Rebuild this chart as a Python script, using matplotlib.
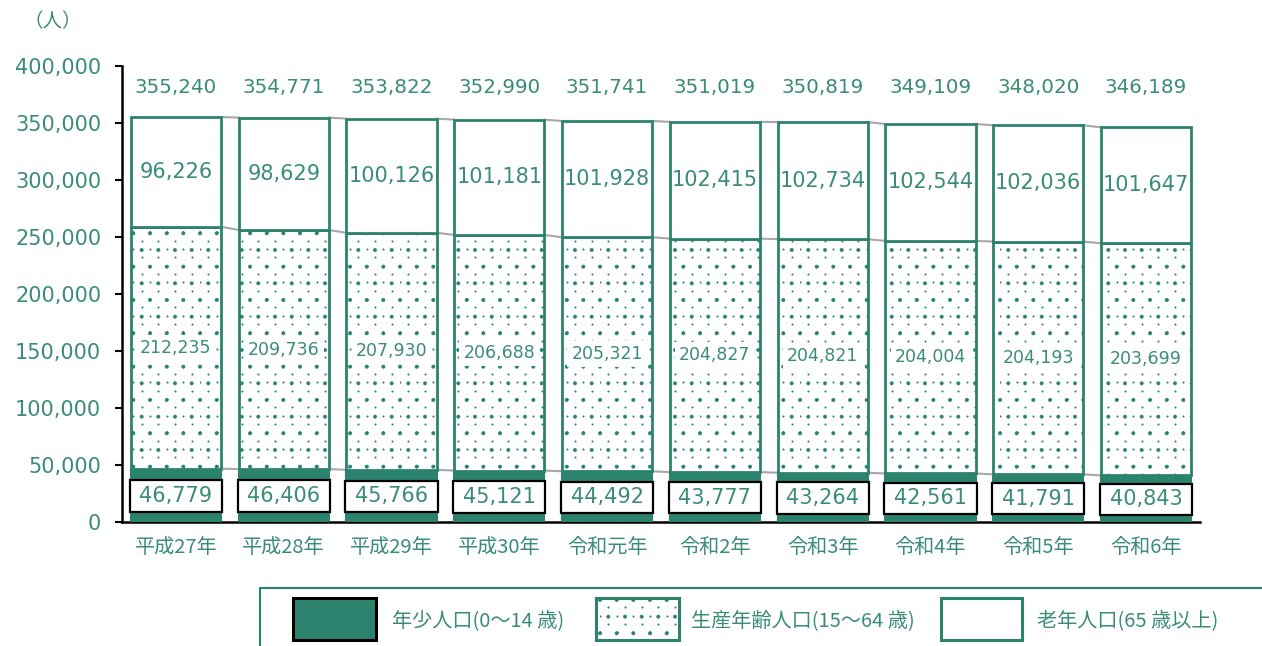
import matplotlib
matplotlib.use("Agg")
import matplotlib.pyplot as plt
from matplotlib.patches import Rectangle
from matplotlib.path import Path
from matplotlib import hatch as mhatch
import numpy as np

plt.rcParams['font.family'] = ['Noto Sans CJK JP', 'DejaVu Sans']
plt.rcParams['hatch.linewidth'] = 0.4

years = ['平成27年', '平成28年', '平成29年', '平成30年', '令和元年',
         '令和2年', '令和3年', '令和4年', '令和5年', '令和6年']
young = [46779, 46406, 45766, 45121, 44492, 43777, 43264, 42561, 41791, 40843]
working = [212235, 209736, 207930, 206688, 205321, 204827, 204821, 204004, 204193, 203699]
old = [96226, 98629, 100126, 101181, 101928, 102415, 102734, 102544, 102036, 101647]
total = [355240, 354771, 353822, 352990, 351741, 351019, 350819, 349109, 348020, 346189]
legend_labels = ['年少人口(0～14 歳)', '生産年齢人口(15～64 歳)', '老年人口(65 歳以上)']
yticks = [0, 50000, 100000, 150000, 200000, 250000, 300000, 350000, 400000]

TEAL = '#2b836e'
TXT = '#3a8c78'
NUMFONT = 'DejaVu Sans'


# sparse staggered dot texture for the '.' hatch (tile = 100 px at dpi 100)
class SparseDots(mhatch.HatchPatternBase):
    def __init__(self, hatch, density):
        self.pts = []
        if hatch.count('.') > 0:
            ys = [0, 8, 17, 25, 33, 42, 50, 58, 67, 75, 83, 92]
            xs_even = [0, 17, 33, 50, 67, 83]
            xs_odd = [8, 25, 42, 58, 75, 92]
            for r, yy in enumerate(ys):
                xs = xs_even if r % 2 == 0 else xs_odd
                for xx in xs:
                    self.pts.append(((xx + 0.5) / 100, (yy + 0.5) / 100))
        self.circ = Path.unit_circle()
        self.num_vertices = len(self.pts) * len(self.circ.vertices)

    def set_vertices_and_codes(self, vertices, codes):
        cv = self.circ.vertices * 0.007
        n = len(cv)
        for k, (xx, yy) in enumerate(self.pts):
            vertices[k * n:(k + 1) * n] = cv + (xx, yy)
            codes[k * n:(k + 1) * n] = self.circ.codes


mhatch._hatch_types = [SparseDots if t is mhatch.SmallCircles else t
                       for t in mhatch._hatch_types]

fig = plt.figure(figsize=(12.62, 6.46), dpi=100)
ax = fig.add_axes([122/1262, 1-522/646, (1200-122)/1262, (522-66)/646])

x = np.arange(len(years))
w = 0.835
young_a = np.array(young)
work_a = np.array(working)
old_a = np.array(old)

ax.bar(x, young_a, w, color=TEAL, edgecolor=TEAL, linewidth=1.5, zorder=3)
ax.bar(x, work_a, w, bottom=young_a, color='white', edgecolor=TEAL,
       linewidth=2, hatch='.', zorder=3)
ax.bar(x, old_a, w, bottom=young_a + work_a, color='white', edgecolor=TEAL,
       linewidth=2, zorder=3)

# series connector lines
for tops in (young_a, young_a + work_a, young_a + work_a + old_a):
    for i in range(len(x) - 1):
        ax.plot([x[i] + w/2, x[i+1] - w/2], [tops[i], tops[i+1]],
                color='#a8a8a8', lw=1.5, zorder=2)

# labels
box_h = 27500
for i in range(len(x)):
    cy = young_a[i] / 2 - 500
    ax.add_patch(Rectangle((x[i] - w/2 - 0.01, cy - box_h/2), w + 0.02, box_h,
                           facecolor='white', edgecolor='black', lw=1.6, zorder=5))
    ax.text(x[i], cy, f'{young[i]:,}', ha='center', va='center', fontsize=15,
            color=TXT, family=NUMFONT, zorder=6)
    ax.text(x[i], young_a[i] + work_a[i]/2, f'{working[i]:,}', ha='center',
            va='center', fontsize=12.5, color=TXT, family=NUMFONT, zorder=6,
            bbox=dict(facecolor='white', edgecolor='none', pad=3))
    ax.text(x[i], young_a[i] + work_a[i] + old_a[i]/2, f'{old[i]:,}', ha='center',
            va='center', fontsize=15, color=TXT, family=NUMFONT, zorder=6)
    ax.text(x[i], 381000, f'{total[i]:,}', ha='center', va='center',
            fontsize=14.3, color=TXT, family=NUMFONT, zorder=6)

ax.set_xlim(-0.5, len(x) - 0.5)
ax.set_ylim(0, 400000)
ax.set_yticks(yticks)
ax.set_yticklabels([f'{v:,}' for v in yticks], fontsize=15, color=TXT, family=NUMFONT)
ax.set_xticks(x)
ax.set_xticklabels(years, fontsize=14.5, color=TXT)
ax.tick_params(axis='x', length=0, pad=11)
ax.tick_params(axis='y', length=5, width=1.5, color='black', pad=10)
for s in ('top', 'right'):
    ax.spines[s].set_visible(False)
for s in ('left', 'bottom'):
    ax.spines[s].set_color('black')
    ax.spines[s].set_linewidth(1.8)

fig.text(53/1262, 1-22/646, '（人）', ha='center', va='center', fontsize=14, color=TXT)


def fx(px):
    return px / 1262


def fy(py):
    return 1 - py / 646


fig.patches.append(Rectangle((fx(260), fy(700)), fx(1100), fy(588) - fy(700),
                             transform=fig.transFigure, facecolor='white',
                             edgecolor=TEAL, lw=1.5, clip_on=False))
handles = [
    dict(x0=293, x1=376, fc=TEAL, ec='black', hatch=None, tx=392),
    dict(x0=596, x1=679, fc='white', ec=TEAL, hatch='.', tx=691),
    dict(x0=941, x1=1022, fc='white', ec=TEAL, hatch=None, tx=1037),
]
for h, lab in zip(handles, legend_labels):
    fig.patches.append(Rectangle((fx(h['x0']), fy(640)), fx(h['x1'] - h['x0']),
                                 fy(598) - fy(640), transform=fig.transFigure,
                                 facecolor=h['fc'], edgecolor=h['ec'], lw=2.2,
                                 hatch=h['hatch']))
    fig.text(fx(h['tx']), fy(622), lab, ha='left', va='center', fontsize=14.5,
             color=TXT)

fig.savefig('out.png', dpi=100)
